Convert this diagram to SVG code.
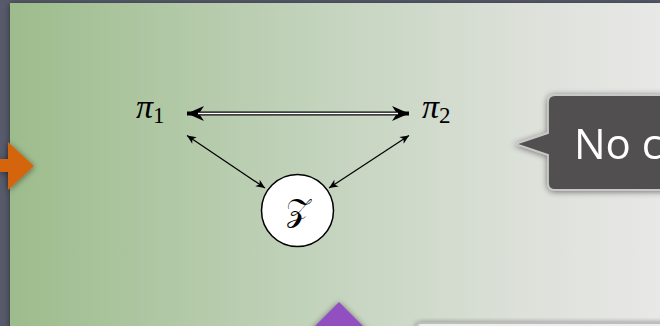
<svg xmlns="http://www.w3.org/2000/svg" width="660" height="326" viewBox="0 0 660 326">
<defs>
<linearGradient id="panel" x1="0" y1="0" x2="1" y2="0">
<stop offset="0" stop-color="#9dbc8c"/>
<stop offset="0.45" stop-color="#c1d2ba"/>
<stop offset="0.8" stop-color="#dde1da"/>
<stop offset="1" stop-color="#e8e8e6"/>
</linearGradient>
<filter id="shadow" x="-30%" y="-30%" width="160%" height="160%">
<feGaussianBlur in="SourceAlpha" stdDeviation="3"/>
<feOffset dx="0" dy="1" result="b"/>
<feComponentTransfer><feFuncA type="linear" slope="0.5"/></feComponentTransfer>
<feMerge><feMergeNode/><feMergeNode in="SourceGraphic"/></feMerge>
</filter>
<marker id="bigHead" markerUnits="userSpaceOnUse" viewBox="-18 -8 19 16" refX="0" refY="0" markerWidth="19" markerHeight="16" orient="auto-start-reverse">
<path d="M0,0 L-17,-7.5 L-12,0 L-17,7.5 z" fill="#000"/>
</marker>
<marker id="smallHead" markerUnits="userSpaceOnUse" viewBox="-10 -5 11 10" refX="0" refY="0" markerWidth="11" markerHeight="10" orient="auto-start-reverse">
<path d="M0,0 L-9,-4 L-6.5,0 L-9,4 z" fill="#000"/>
</marker>
<style>
.math{font-family:"Liberation Serif","DejaVu Serif",serif;fill:#000}
.conn{stroke:#000;fill:none}
</style>
</defs>
<rect x="0" y="0" width="660" height="326" fill="#575a6a"/>
<rect x="10" y="3" width="650" height="330" fill="url(#panel)" filter="url(#shadow)"/>
<path d="M0,159 L8,159 L8,142 L34,166 L8,190 L8,172 L0,172 z" fill="#d4650e" filter="url(#shadow)"/>
<path d="M339,302 L368,331 L310,331 z" fill="#9150bf" filter="url(#shadow)"/>
<rect x="417" y="323" width="260" height="20" rx="4" fill="#eeeeee" stroke="#bdbdbd" stroke-width="2" filter="url(#shadow)"/>
<g id="callout" filter="url(#shadow)">
<path d="M555,95 L672,95 L672,190 L555,190 Q548,190 548,183 L548,155 L516,144 L548,133 L548,102 Q548,95 555,95 z" fill="#515050" stroke="#c8c8c8" stroke-width="1.8"/>
<text x="574" y="159" font-family="'Open Sans','DejaVu Sans',sans-serif" font-size="42" fill="#ffffff">No c</text>
</g>
<g id="connectors">
<path class="conn" d="M187,113.5 L409,113.5" stroke-width="4.2" marker-start="url(#bigHead)" marker-end="url(#bigHead)"/>
<path d="M198,113.5 L398,113.5" stroke="#ffffff" stroke-width="1.4"/>
<path class="conn" d="M187,135.5 L265,188" stroke-width="1.2" marker-start="url(#smallHead)" marker-end="url(#smallHead)"/>
<path class="conn" d="M409,135.5 L329,188" stroke-width="1.2" marker-start="url(#smallHead)" marker-end="url(#smallHead)"/>
</g>
<g id="pi1">
<text class="math" x="136" y="118" font-size="34" font-style="italic">π<tspan font-size="23" font-style="normal" dy="5">1</tspan></text>
</g>
<g id="pi2">
<text class="math" x="422" y="118" font-size="34" font-style="italic">π<tspan font-size="23" font-style="normal" dy="5">2</tspan></text>
</g>
<g id="z">
<circle cx="297.5" cy="210.5" r="36" fill="#ffffff" stroke="#000" stroke-width="1.5"/>
<text class="math" x="297.5" y="221" font-size="32" text-anchor="middle">𝒵</text>
</g>
</svg>
